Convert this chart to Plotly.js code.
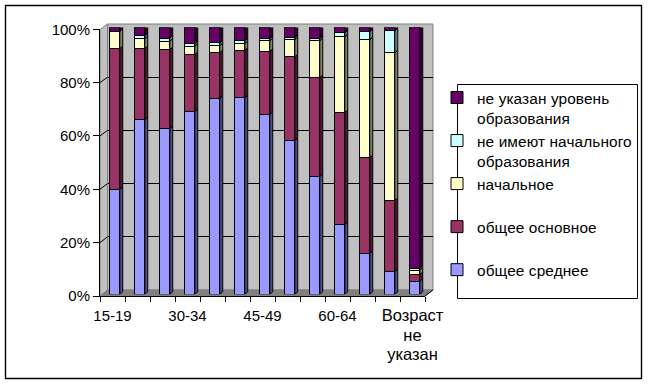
<!DOCTYPE html>
<html><head><meta charset="utf-8">
<script src="https://cdn.plot.ly/plotly-3.0.0.min.js"></script>
<style>html,body{margin:0;padding:0;background:#fff}
.legendtext{letter-spacing:0.1px}</style></head>
<body><div id="chart" style="width:648px;height:384px"></div>
<script>
var tickLabels = ['15-19','30-34','45-49','60-64','<span style="font-size:16.5px">Возраст</span><br><span style="font-size:16.5px">не</span><br><span style="font-size:16.5px">указан</span>'];
var tickPositions = [0,3,6,9,12];
var ageGroups = [0,1,2,3,4,5,6,7,8,9,10,11,12];
var secondary = [39.4,65.5,62.1,68.5,73.4,73.75,67.4,57.6,44.2,26.2,15.4,8.6,4.9];
var basic = [52.7,26.6,29.65,21.4,17.2,17.65,23.6,31.5,37.05,41.9,35.85,26.6,2.5];
var primary = [6.5,3.8,3.15,3.1,2.65,2.6,4.1,6.4,13.85,28.5,44.25,55.4,1.6];
var noPrimary = [0,1.1,1.2,1,1,1,0.8,0.75,0.8,1.5,3,8.3,0.75];
var unknown = [1.4,3,3.9,6,5.75,5,4.1,3.75,4.1,1.9,1.5,1.1,90.25];
var seriesNames = ['общее среднее<br>\u00a0','общее основное<br>\u00a0','начальное<br>\u00a0','не имеют начального<br>образования','не указан уровень<br>образования'];
var seriesValues = [secondary,basic,primary,noPrimary,unknown];
var colors = ['#9999FF','#993366','#FFFFCC','#CCFFFF','#660066'];
var sideColors = ['#4D4D80','#4D1A33','#808066','#668080','#330033'];

var W=648,H=384;
function fx(p){return p/W;} function fy(p){return 1-p/H;}
var font={family:'Liberation Sans, Arial, sans-serif',size:15,color:'#000'};
var legendFont={family:'Liberation Sans, Arial, sans-serif',size:15.4,color:'#000'};
var barW=0.42, dx=0.12, dy=0.95;
var shapes=[];
function poly(pts,fill,ref,line,layer){
  var xr=ref?ref[0]:'paper', yr=ref?ref[1]:'paper';
  var d=pts.map(function(p,i){return (i?'L':'M')+p[0]+','+p[1];}).join('')+'Z';
  shapes.push({type:'path',path:d,xref:xr,yref:yr,fillcolor:fill,line:line||{color:'#000',width:1},layer:layer||'above'});
}
function seg(x0,y0,x1,y1,color,w,layer){
  shapes.push({type:'line',xref:'paper',yref:'paper',x0:fx(x0),y0:fy(y0),x1:fx(x1),y1:fy(y1),line:{color:color,width:w||1},layer:layer||'below'});
}
var gray={color:'#808080',width:1};
poly([[fx(100),fy(29.5)],[fx(107.5),fy(24)],[fx(107.5),fy(290)],[fx(100),fy(296)]],'#C0C0C0',null,gray,'below');
poly([[fx(107.5),fy(24)],[fx(433),fy(24)],[fx(433),fy(290)],[fx(107.5),fy(290)]],'#C0C0C0',null,gray,'below');
poly([[fx(100),fy(296)],[fx(107.5),fy(290)],[fx(433),fy(290)],[fx(425),fy(296)]],'#808080',null,{color:'#808080',width:1},'below');
[20,40,60,80].forEach(function(v){
  seg(100,296-v*2.667,107.5,290-v*2.66,'#000',1,'below');
});
seg(425,296,433,290,'#000',1,'above');
ageGroups.forEach(function(x,i){
  var c=0;
  seriesValues.forEach(function(vals,k){
    var v=vals[i];
    if(v>0){
      poly([[x+barW/2,c],[x+barW/2+dx,c+dy],[x+barW/2+dx,c+v+dy],[x+barW/2,c+v]],sideColors[k],['x2','y2']);
    }
    c+=v;
  });
  poly([[x-barW/2,c],[x-barW/2+dx,c+dy],[x+barW/2+dx,c+dy],[x+barW/2,c]],sideColors[4],['x2','y2']);
});
shapes.push({type:'rect',xref:'paper',yref:'paper',x0:fx(457.5),x1:fx(637.5),y0:fy(298.5),y1:fy(84.5),line:{color:'#000',width:1},fillcolor:'rgba(0,0,0,0)',layer:'below'});
shapes.push({type:'rect',xref:'paper',yref:'paper',x0:fx(5.5),x1:fx(641.5),y0:fy(378.5),y1:fy(5.5),line:{color:'#000',width:1.4},fillcolor:'rgba(0,0,0,0)',layer:'below'});

var traces=[{type:'scatter',x:[0],y:[0],xaxis:'x',yaxis:'y',mode:'none',showlegend:false,hoverinfo:'skip'}];
seriesValues.forEach(function(vals,k){
  traces.push({type:'bar',name:seriesNames[k],x:ageGroups,y:vals,xaxis:'x2',yaxis:'y2',width:barW,
    marker:{color:colors[k],line:{color:'#000',width:1}},hoverinfo:'skip'});
});
traces.push({type:'scatter',x:[0],y:[0],xaxis:'x3',yaxis:'y3',mode:'none',showlegend:false,hoverinfo:'skip'});
traces.push({type:'scatter',x:[0],y:[0],xaxis:'x4',yaxis:'y3',mode:'none',showlegend:false,hoverinfo:'skip'});

var layout={
  width:W,height:H,margin:{l:0,r:0,t:0,b:0},paper_bgcolor:'#fff',plot_bgcolor:'rgba(0,0,0,0)',
  font:font,barmode:'stack',showlegend:true,shapes:shapes,
  legend:{x:fx(448.5),xanchor:'left',y:fy(81),yanchor:'top',valign:'top',indentation:-11.5,traceorder:'reversed',
    font:legendFont,bgcolor:'rgba(0,0,0,0)',borderwidth:0,itemclick:false,itemdoubleclick:false},
  xaxis:{domain:[fx(107.5),fx(433)],range:[0,1],visible:false,anchor:'y'},
  yaxis:{domain:[fy(290),fy(24)],range:[0,100],tickmode:'array',tickvals:[20,40,60,80],showticklabels:false,ticks:'',showgrid:true,gridcolor:'#000',gridwidth:1,zeroline:false,anchor:'x'},
  xaxis2:{domain:[fx(102),fx(427)],range:[-0.5,12.5],visible:false,anchor:'y2'},
  yaxis2:{domain:[fy(294.3),fy(27.6)],range:[0,100],visible:false,anchor:'x2'},
  xaxis3:{domain:[fx(100),fx(425)],range:[-0.5,12.5],tickmode:'array',tickvals:tickPositions,ticktext:tickLabels,
    ticks:'outside',ticklen:6,tickcolor:'rgba(0,0,0,0)',showgrid:false,zeroline:false,showline:true,linecolor:'#000',linewidth:1,anchor:'y3',tickfont:font,tickangle:0},
  xaxis4:{domain:[fx(100),fx(425)],range:[-0.5,12.5],tickmode:'linear',tick0:-0.5,dtick:1,ticks:'outside',ticklen:5,tickcolor:'#000',
    showticklabels:false,showgrid:false,zeroline:false,anchor:'y3',overlaying:'x3'},
  yaxis3:{domain:[fy(296),fy(29.3)],range:[0,100],tickmode:'array',tickvals:[0,20,40,60,80,100],ticktext:['0%','20%','40%','60%','80%','100%'],
    ticks:'outside',ticklen:6,tickcolor:'#000',showgrid:false,zeroline:false,showline:true,linecolor:'#000',linewidth:1,anchor:'x3',tickfont:font}
};
Plotly.newPlot('chart',traces,layout,{displayModeBar:false});
</script></body></html>
